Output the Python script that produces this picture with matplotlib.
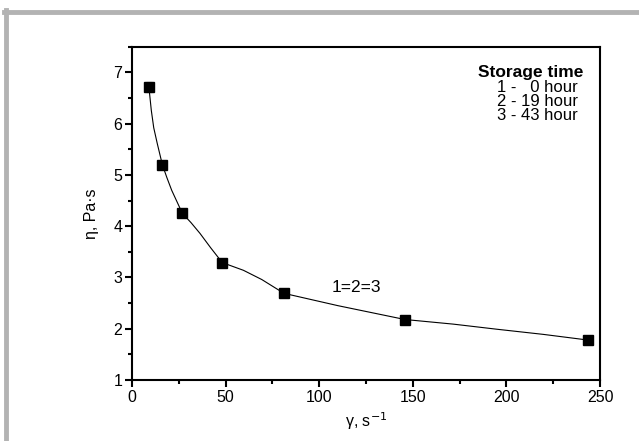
import matplotlib.pyplot as plt
from matplotlib.lines import Line2D
from matplotlib.ticker import MultipleLocator

plt.rcParams['font.family'] = ['Liberation Sans', 'DejaVu Sans']

# measured points
shear_rate = [9.0, 16.2, 26.9, 48.2, 81.2, 145.8, 243.4]
viscosity = [6.72, 5.20, 4.25, 3.29, 2.69, 2.18, 1.78]
viscosity_err = [0.10, 0.03, 0.03, 0.03, 0.02, 0.02, 0.02]

# fitted curve
fit_x = [9.0, 10.3, 11.6, 13.5, 16.2, 18.6, 21.2, 26.9, 31.5, 36.3, 42.0,
         48.2, 59.5, 69.3, 81.2, 110.0, 145.8, 171.6, 195.0, 219.7, 243.4]
fit_y = [6.72, 6.26, 5.92, 5.61, 5.20, 4.95, 4.70, 4.25, 4.07, 3.86, 3.58,
         3.29, 3.14, 2.96, 2.69, 2.45, 2.18, 2.09, 1.99, 1.89, 1.78]

legend_title = 'Storage time'
legend_lines = ['1 -   0 hour', '2 - 19 hour', '3 - 43 hour']

fig = plt.figure(figsize=(6.39, 4.41), dpi=100)

# grey frame along top and left edge
frame_color = '#b3b3b3'
fig.add_artist(Line2D([0.006, 1.0], [0.973, 0.973], color=frame_color,
                      lw=3.5, transform=fig.transFigure))
fig.add_artist(Line2D([0.010, 0.010], [0.0, 0.977], color=frame_color,
                      lw=3.5, transform=fig.transFigure))

ax = fig.add_axes([0.2066, 0.1383, 0.7324, 0.7557])

ax.plot(fit_x, fit_y, color='black', lw=0.8)
ax.errorbar(shear_rate, viscosity, yerr=viscosity_err, fmt='s', color='black',
            ms=7, capsize=2.5, elinewidth=0.8, capthick=0.8)

ax.set_xlim(0, 250)
ax.set_ylim(1, 7.5)
ax.xaxis.set_major_locator(MultipleLocator(50))
ax.xaxis.set_minor_locator(MultipleLocator(25))
ax.yaxis.set_major_locator(MultipleLocator(1))
ax.yaxis.set_minor_locator(MultipleLocator(0.5))

for s in ax.spines.values():
    s.set_linewidth(1.5)
ax.tick_params(which='major', direction='out', length=5, width=1.5,
               labelsize=11.5, pad=2)
ax.tick_params(which='minor', direction='out', length=3, width=1.5)

ax.set_xlabel('γ, s$^{-1}$', fontsize=11.5, labelpad=4)
ax.set_ylabel('η, Pa·s', fontsize=11.5, labelpad=10)

ax.text(0.965, 0.923, legend_title, transform=ax.transAxes, ha='right',
        va='center', fontsize=12.5, fontweight='bold')
for i, line in enumerate(legend_lines):
    ax.text(0.953, 0.879 - i * 0.043, line, transform=ax.transAxes,
            ha='right', va='center', fontsize=12)

ax.text(0.479, 0.279, '1=2=3', transform=ax.transAxes, ha='center',
        va='center', fontsize=12.5)

fig.savefig('out.png', dpi=100)
